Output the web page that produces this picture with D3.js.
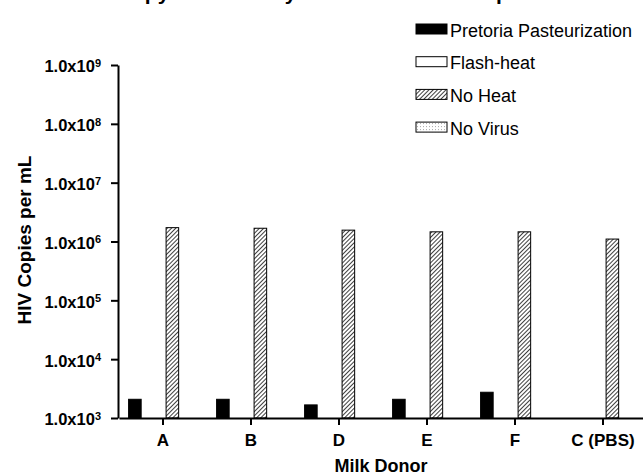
<!DOCTYPE html>
<html>
<head>
<meta charset="utf-8">
<script src="https://cdn.jsdelivr.net/npm/d3@7"></script>
<style>
  body { margin: 0; background: #fff; }
  svg { display: block; font-family: "Liberation Sans", Arial, sans-serif; }
</style>
</head>
<body>
<svg id="chart" width="643" height="475"></svg>
<script>
// data (copies per mL, 0 = nothing detected)
var donors = ["A", "B", "D", "E", "F", "C (PBS)"];
var seriesNames = ["Pretoria Pasteurization", "Flash-heat", "No Heat", "No Virus"];
var pretoria = [2080, 2080, 1670, 2080, 2740, 0];
var flashHeat = [0, 0, 0, 0, 0, 0];
var noHeat = [1720000, 1680000, 1560000, 1460000, 1460000, 1100000];
var noVirus = [0, 0, 0, 0, 0, 0];
var yTicks = [1e3, 1e4, 1e5, 1e6, 1e7, 1e8, 1e9];

var seriesValues = [pretoria, flashHeat, noHeat, noVirus];
var fills = ["#000", "#fff", "url(#hatch)", "url(#dots)"];

var svg = d3.select("#chart");
var width = +svg.attr("width"), height = +svg.attr("height");

// patterns
var defs = svg.append("defs");
var hatch = defs.append("pattern")
    .attr("id", "hatch")
    .attr("patternUnits", "userSpaceOnUse")
    .attr("width", 3).attr("height", 3)
    .attr("patternTransform", "rotate(45)");
hatch.append("rect").attr("width", 3).attr("height", 3).attr("fill", "#fff");
hatch.append("line").attr("x1", 0).attr("y1", 0).attr("x2", 0).attr("y2", 3)
    .attr("stroke", "#000").attr("stroke-width", 1.5);

var dots = defs.append("pattern")
    .attr("id", "dots")
    .attr("patternUnits", "userSpaceOnUse")
    .attr("width", 3).attr("height", 3);
dots.append("rect").attr("width", 3).attr("height", 3).attr("fill", "#fff");
dots.append("rect").attr("x", 1).attr("y", 1).attr("width", 0.8).attr("height", 0.8).attr("fill", "#777");

// title: the reference only shows its descenders at the top edge
svg.append("text")
    .attr("x", 76).attr("y", 0)
    .style("font-size", "21px").style("font-weight", "bold")
    .text("HIV Copy Numbers by Treatment and Sample");

var x0 = d3.scaleBand().domain(donors).range([119, 647]);
var x1 = d3.scaleBand().domain(seriesNames).range([0, x0.bandwidth()])
    .paddingInner(0.33).paddingOuter(0.512);
var y = d3.scaleLog().domain([1e3, 1e9]).range([418, 65]);

// bars
var groups = svg.append("g").selectAll("g")
    .data(donors)
  .enter().append("g")
    .attr("transform", function(d) { return "translate(" + x0(d) + ",0)"; });

groups.selectAll("rect")
    .data(function(d, i) {
        return seriesNames.map(function(s, j) { return {name: s, k: j, value: seriesValues[j][i]}; })
            .filter(function(e) { return e.value > 1e3; });
    })
  .enter().append("rect")
    .attr("x", function(d) { return x1(d.name); })
    .attr("y", function(d) { return y(d.value); })
    .attr("width", x1.bandwidth())
    .attr("height", function(d) { return y(1e3) - y(d.value); })
    .attr("fill", function(d) { return fills[d.k]; })
    .attr("stroke", "#000")
    .attr("stroke-width", 1);

// axes
var yAxis = svg.append("g")
    .attr("transform", "translate(118,0)")
    .call(d3.axisLeft(y).tickValues(yTicks).tickSize(7).tickSizeOuter(0).tickPadding(10).tickFormat(""));
yAxis.select(".domain").attr("stroke-width", 2);
yAxis.selectAll(".tick line").attr("stroke-width", 2);
yAxis.selectAll(".tick text").each(function(d) {
    var t = d3.select(this)
        .attr("fill", "#000")
        .style("font-size", "16.5px").style("font-weight", "bold")
        .attr("dy", "0.42em");
    t.append("tspan").text("1.0x10");
    t.append("tspan").attr("dy", "-0.5em").style("font-size", "11px")
        .text(Math.round(Math.log10(d)));
});

var xAxis = svg.append("g")
    .attr("transform", "translate(0,418)")
    .call(d3.axisBottom(x0).tickSize(7).tickSizeOuter(0).tickPadding(9));
xAxis.select(".domain").attr("stroke-width", 2);
xAxis.selectAll(".tick line").attr("stroke-width", 2);
xAxis.selectAll(".tick text")
    .attr("fill", "#000")
    .style("font-size", "17px").style("font-weight", "bold");

// axis titles
svg.append("text")
    .attr("x", 381).attr("y", 472)
    .attr("text-anchor", "middle")
    .style("font-size", "18px").style("font-weight", "bold")
    .text("Milk Donor");

svg.append("text")
    .attr("transform", "translate(31,240) rotate(-90)")
    .attr("text-anchor", "middle")
    .style("font-size", "19px").style("font-weight", "bold")
    .text("HIV Copies per mL");

// legend
var legend = svg.append("g").selectAll("g")
    .data(seriesNames)
  .enter().append("g")
    .attr("transform", function(d, i) { return "translate(416," + (24 + i * 32.7) + ")"; });

legend.append("rect")
    .attr("width", 31).attr("height", 10)
    .attr("fill", function(d, i) { return fills[i]; })
    .attr("stroke", "#000").attr("stroke-width", 1);

legend.append("text")
    .attr("x", 34).attr("y", 12.5)
    .style("font-size", "18px")
    .text(function(d) { return d; });
</script>
</body>
</html>
